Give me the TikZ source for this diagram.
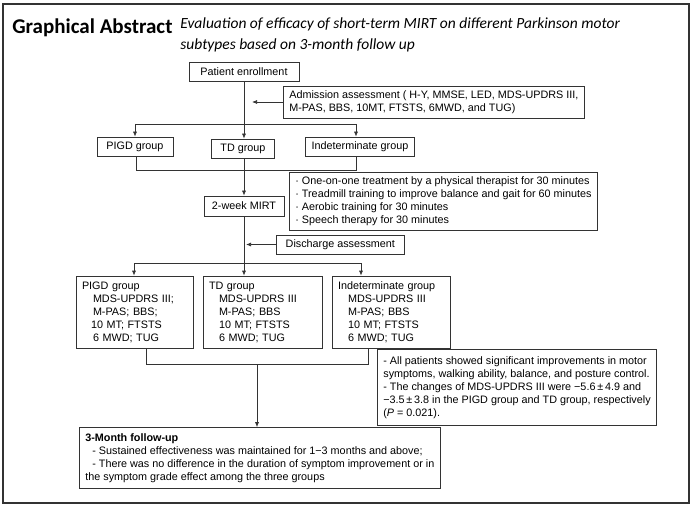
\documentclass[tikz,border=0pt]{standalone}
\usepackage{fontspec}
\setmainfont{Liberation Sans}
\newfontfamily\calibri{Carlito}
\usetikzlibrary{arrows.meta}
\begin{document}
\begin{tikzpicture}[x=1pt,y=-1pt, line width=0.7pt,
  bx/.style={draw=black!80, inner xsep=6pt, inner ysep=0pt, font=\fontsize{10.8}{13}\selectfont, align=left},
  ln/.style={draw=black!80},
  arr/.style={draw=black!80, -{Latex[length=5pt,width=4pt]}}]
\useasboundingbox (0,0) rectangle (694,508);
\draw[line width=1.1pt, black!80] (3,4) rectangle (689,503);
\node[anchor=base west, inner sep=0, font=\calibri\bfseries\fontsize{21}{24}\selectfont] (ttl) at (12,34) {Graphical Abstract};
\node[anchor=base west, inner sep=0, font=\calibri\itshape\fontsize{15.5}{17}\selectfont] (sub1) at (180,29) {Evaluation of efficacy of short-term MIRT on different Parkinson motor};
\node[anchor=base west, inner sep=0, font=\calibri\itshape\fontsize{15.5}{17}\selectfont] (sub2) at (180,49.5) {subtypes based on 3-month follow up};

% top part
\node[bx, minimum width=110pt, minimum height=19pt, align=center] (pe) at (244,72) {Patient enrollment};
\node[bx, anchor=west, minimum height=32pt] (adm) at (283,102) {Admission assessment ( H-Y, MMSE, LED, MDS-UPDRS III,\\M-PAS, BBS, 10MT, FTSTS, 6MWD, and TUG)};
\coordinate (admT) at (252,102);
\draw[arr] (adm.west) -- (admT);

\node[bx, minimum width=76pt, minimum height=19pt, align=center] (pg1) at (135,146.5) {PIGD group};
\node[bx, minimum width=63pt, minimum height=19pt, align=center] (td1) at (243,148.5) {TD group};
\node[bx, minimum width=108pt, minimum height=19pt, align=center] (in1) at (360,146.5) {Indeterminate group};

\coordinate (b1L) at (135,124);
\coordinate (b1R) at (356,124);
\draw[arr] (pe.south) -- (pe.south |- td1.north);
\draw[ln] (b1L) -- (b1R);
\draw[arr] (b1L) -- (b1L |- pg1.north);
\draw[arr] (b1R) -- (b1R |- in1.north);
\coordinate (j1L) at (136,170);
\coordinate (j1R) at (356,170);
\draw[ln] (j1L |- pg1.south) -- (j1L) -- (j1R) -- (j1R |- in1.south);

\node[bx, minimum width=80pt, minimum height=20pt, align=center] (mirt) at (244,206) {2-week MIRT};
\draw[arr] (mirt.north |- td1.south) -- (mirt.north);
\node[bx, anchor=west, minimum height=58pt] (tx) at (289,201) {· One-on-one treatment by a physical therapist for 30 minutes\\· Treadmill training to improve balance and gait for 60 minutes\\· Aerobic training for 30 minutes\\· Speech therapy for 30 minutes};

\node[bx, anchor=west, minimum height=19pt, minimum width=128pt] (dis) at (276,244.5) {Discharge assessment};
\coordinate (disT) at (246,244.5);
\draw[arr] (dis.west) -- (disT);

% second row
\node[bx, minimum width=117pt, minimum height=72pt, text width=105pt] (pg2) at (134.5,312) {PIGD group\\\hspace*{11pt}MDS-UPDRS III;\\\hspace*{11pt}M-PAS; BBS;\\\hspace*{9pt}10 MT; FTSTS\\\hspace*{11pt}6 MWD; TUG};
\node[bx, minimum width=119pt, minimum height=72pt, text width=107pt] (td2) at (262.5,312) {TD group\\\hspace*{10pt}MDS-UPDRS III\\\hspace*{10pt}M-PAS; BBS\\\hspace*{10pt}10 MT; FTSTS\\\hspace*{10pt}6 MWD; TUG};
\node[bx, minimum width=118pt, minimum height=72pt, text width=106pt] (in2) at (391,312) {Indeterminate group\\\hspace*{10pt}MDS-UPDRS III\\\hspace*{10pt}M-PAS; BBS\\\hspace*{10pt}10 MT; FTSTS\\\hspace*{10pt}6 MWD; TUG};

\draw[arr] (mirt.south) -- (mirt.south |- td2.north);
\coordinate (b2L) at (134,263);
\coordinate (b2R) at (361,263);
\draw[ln] (b2L) -- (b2R);
\draw[arr] (b2L) -- (b2L |- pg2.north);
\draw[arr] (b2R) -- (b2R |- in2.north);

\coordinate (j2L) at (146,364);
\coordinate (j2R) at (368,364);
\coordinate (j2C) at (257,364);
\draw[ln] (j2L |- pg2.south) -- (j2L) -- (j2R) -- (j2R |- in2.south);

\node[bx, anchor=north west, minimum height=76pt] (sum) at (377,349) {- All patients showed significant improvements in motor\\symptoms, walking ability, balance, and posture control.\\- The changes of MDS-UPDRS III were −5.6\,±\,4.9 and\\−3.5\,±\,3.8 in the PIGD group and TD group, respectively\\(\textit{P} = 0.021).};

\node[bx, anchor=west, minimum height=61pt] (fu) at (79,458) {\textbf{3-Month follow-up}\\\hspace*{7pt}- Sustained effectiveness was maintained for 1−3 months and above;\\\hspace*{7pt}- There was no difference in the duration of symptom improvement or in\\the symptom grade effect among the three groups};
\draw[arr] (j2C) -- (j2C |- fu.north);
\end{tikzpicture}
\end{document}
